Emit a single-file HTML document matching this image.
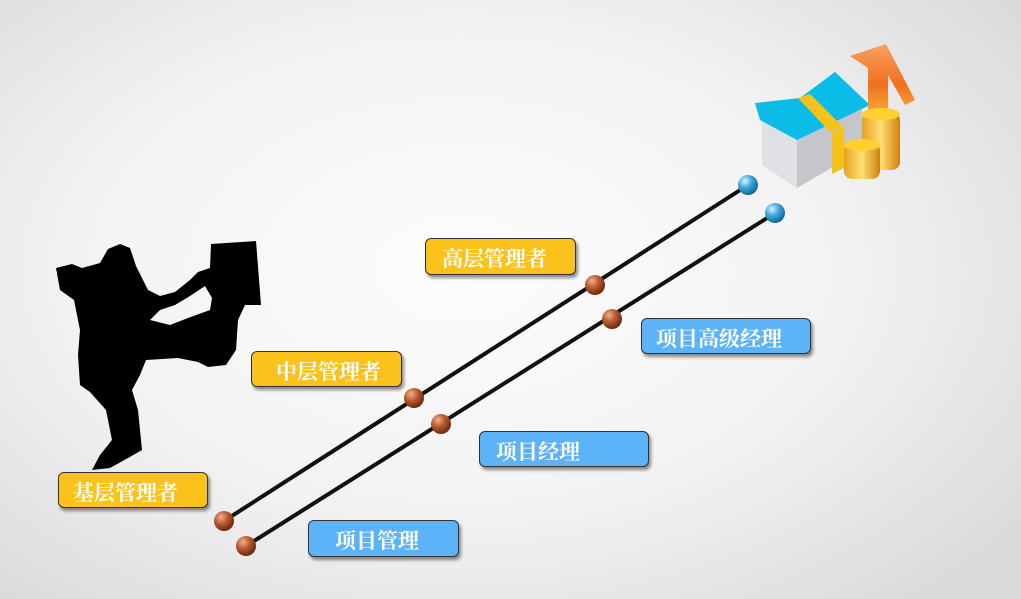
<!DOCTYPE html>
<html><head><meta charset="utf-8"><style>
html,body{margin:0;padding:0}
body{width:1021px;height:599px;overflow:hidden;background:radial-gradient(ellipse 70% 75% at 45% 45%,#fdfdfd 0%,#f2f2f3 55%,#d9d9dc 100%);position:relative;font-family:"Liberation Serif","Noto Serif CJK SC","Noto Sans CJK SC",serif}
.l{position:absolute;border:1px solid #333;border-radius:6px;color:#fff;font-size:21px;font-weight:bold;line-height:40px;box-shadow:2px 3px 3px rgba(0,0,0,.45);box-sizing:border-box;padding-left:14px}
.y{background:#fcc21c}
.b{background:#5cb3f8}
</style></head><body>
<svg width="1021" height="599" style="position:absolute;left:0;top:0">
<defs>
<radialGradient id="br" cx="35%" cy="30%" r="70%"><stop offset="0" stop-color="#f0b090"/><stop offset=".5" stop-color="#b9582e"/><stop offset="1" stop-color="#6e2a10"/></radialGradient>
<radialGradient id="bb" cx="35%" cy="30%" r="70%"><stop offset="0" stop-color="#d6f2ff"/><stop offset=".5" stop-color="#3aa8dc"/><stop offset="1" stop-color="#156a9a"/></radialGradient>
<linearGradient id="ar" x1="0" y1="0" x2="0" y2="1"><stop offset="0" stop-color="#f9a060"/><stop offset=".5" stop-color="#f07020"/><stop offset="1" stop-color="#f8c040"/></linearGradient>
<linearGradient id="cn" x1="0" y1="0" x2="1" y2="0"><stop offset="0" stop-color="#e8a020"/><stop offset=".5" stop-color="#ffe070"/><stop offset="1" stop-color="#d08010"/></linearGradient>
</defs>
<line x1="224" y1="521" x2="748" y2="185" stroke="#111" stroke-width="4"/>
<line x1="246" y1="546" x2="775" y2="213" stroke="#111" stroke-width="4"/>
<g fill="url(#br)">
<circle cx="224" cy="521" r="10"/><circle cx="414" cy="398" r="10"/><circle cx="595" cy="285" r="10"/>
<circle cx="246" cy="546" r="10"/><circle cx="441" cy="424" r="10"/><circle cx="612" cy="319" r="10"/>
</g>
<circle cx="748" cy="185" r="10" fill="url(#bb)"/><circle cx="775" cy="213" r="10" fill="url(#bb)"/>
<!-- silhouette -->
<path fill="#000" d="M56,268 L72,264 L82,268 L100,263 L108,249 L120,244 L130,248 L136,266 L148,290 L160,296 L175,292 L190,280 L198,272 L210,268 L211,244 L256,241 L261,305 L245,305 L238,320 L236,350 L226,365 L208,367 L198,362 L178,358 L146,360 L140,375 L132,390 L138,410 L140,430 L142,450 L128,458 L110,468 L92,470 L100,455 L112,440 L106,410 L90,392 L80,385 L78,355 L80,330 L74,300 L60,290 Z M150,320 L170,325 L188,318 L210,310 L212,298 L205,286 L190,296 L175,305 L160,310 Z"/>
<!-- money -->
<polygon points="762,118 797,140 797,188 762,165" fill="#dfe1e4"/>
<polygon points="797,140 862,108 862,150 797,188" fill="#c4c6c9"/>
<polygon points="755,103 800,98 835,72 870,105 797,140 760,120" fill="#0bbce6"/>
<polygon points="798,98 810,94 842,126 830,132" fill="#f5c21a"/>
<polygon points="832,132 844,126 844,168 832,174" fill="#f5c21a"/>
<polygon points="850,56 886,44 915,100 905,105 888,75 888,125 868,120 868,68" fill="url(#ar)"/>
<rect x="862" y="112" width="38" height="58" rx="8" fill="url(#cn)"/>
<ellipse cx="881" cy="114" rx="19" ry="6" fill="#ffd030"/>
<rect x="844" y="143" width="36" height="36" rx="8" fill="url(#cn)"/>
<ellipse cx="862" cy="145" rx="18" ry="6" fill="#ffd030"/>
</svg>
<div class="l y" style="left:58px;top:472px;width:150px;height:36px">基层管理者</div>
<div class="l y" style="left:251px;top:351px;width:151px;height:36px;padding-left:24px">中层管理者</div>
<div class="l y" style="left:425px;top:238px;width:151px;height:37px;padding-left:16px">高层管理者</div>
<div class="l b" style="left:308px;top:520px;width:151px;height:37px;padding-left:26px">项目管理</div>
<div class="l b" style="left:479px;top:431px;width:170px;height:36px;padding-left:16px">项目经理</div>
<div class="l b" style="left:641px;top:318px;width:170px;height:36px;padding-left:14px">项目高级经理</div>
</body></html>
